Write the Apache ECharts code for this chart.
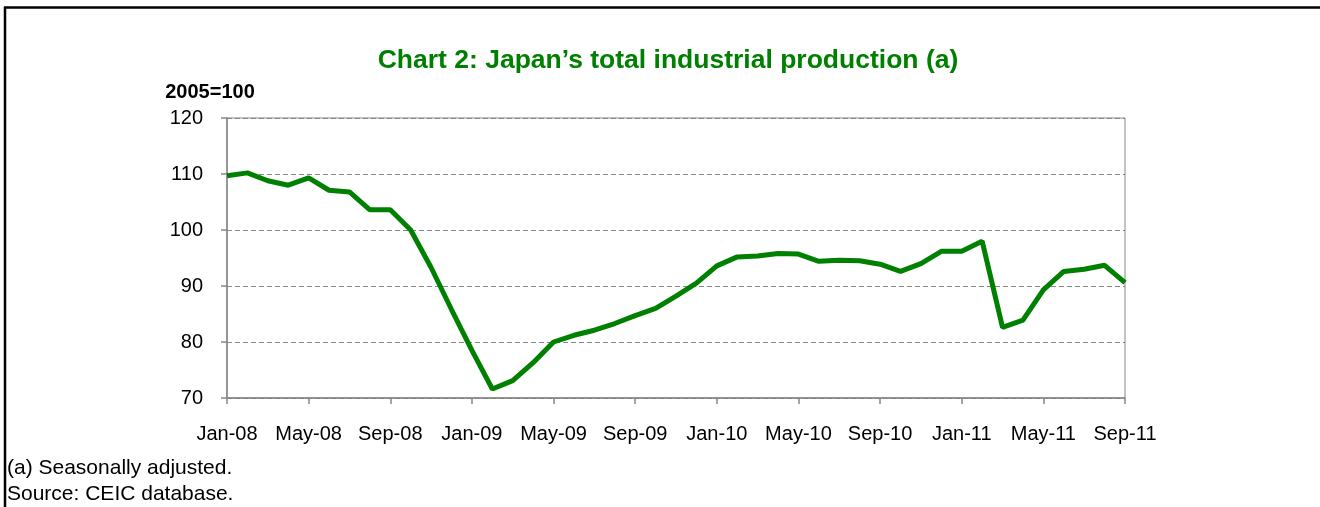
<!DOCTYPE html>
<html>
<head>
<meta charset="utf-8">
<script src="https://cdn.jsdelivr.net/npm/echarts@6/dist/echarts.min.js"></script>
<style>
  html, body { margin: 0; padding: 0; background: #fff; }
  #chart { width: 1320px; height: 507px; }
</style>
</head>
<body>
<div id="chart"></div>
<script>
  // monthly, Jan-08 .. Sep-11
  var months = ['Jan', 'Feb', 'Mar', 'Apr', 'May', 'Jun', 'Jul', 'Aug', 'Sep', 'Oct', 'Nov', 'Dec']
  var years = ['08', '09', '10', '11']
  var categories = []
  years.forEach(function (y) {
    months.forEach(function (m) {
      if (categories.length < 45) categories.push(m + '-' + y)
    })
  })

  var production = [
    109.7, 110.2, 108.8, 108.0, 109.3, 107.1, 106.8, 103.6, 103.6, 100.0, 93.3, 85.8,
    78.5, 71.6, 73.1, 76.3, 80.0, 81.2, 82.1, 83.3, 84.7, 86.0, 88.2, 90.5,
    93.6, 95.2, 95.35, 95.8, 95.7, 94.4, 94.6, 94.5, 93.9, 92.6, 94.0, 96.2,
    96.2, 98.0, 82.6, 83.9, 89.3, 92.6, 93.0, 93.7, 90.6
  ]

  var chart = echarts.init(document.getElementById('chart'))
  chart.setOption({
    animation: false,
    backgroundColor: '#fff',
    title: {
      text: 'Chart 2: Japan\u2019s total industrial production (a)',
      left: 663,
      textAlign: 'center',
      top: 42,
      textStyle: {
        color: '#008000',
        fontFamily: 'Liberation Sans',
        fontWeight: 'bold',
        fontSize: 26.5
      }
    },
    grid: {
      left: 227,
      right: 195,
      top: 118,
      bottom: 109,
      show: true,
      borderColor: '#868686',
      borderWidth: 1
    },
    xAxis: {
      type: 'category',
      data: categories,
      boundaryGap: false,
      axisLine: { lineStyle: { color: '#868686', width: 1.5 } },
      axisTick: { interval: 3, length: 6, lineStyle: { color: '#868686', width: 1.5 } },
      axisLabel: {
        interval: 3,
        color: '#000',
        fontFamily: 'Liberation Sans',
        fontSize: 20,
        margin: 26
      },
      splitLine: { show: false }
    },
    yAxis: {
      type: 'value',
      min: 70,
      max: 120,
      interval: 10,
      name: '2005=100',
      nameLocation: 'end',
      nameGap: 16,
      nameTextStyle: {
        color: '#000',
        fontFamily: 'Liberation Sans',
        fontWeight: 'bold',
        fontSize: 20,
        align: 'center',
        padding: [0, 0, 0, -34]
      },
      axisLine: { show: true, lineStyle: { color: '#868686', width: 1.5 } },
      axisTick: { show: true, length: 6, lineStyle: { color: '#868686', width: 1.5 } },
      axisLabel: {
        color: '#000',
        fontFamily: 'Liberation Sans',
        fontSize: 20,
        margin: 24
      },
      splitLine: { lineStyle: { color: '#868686', type: [5, 3], width: 1 } }
    },
    series: [
      {
        name: 'Industrial production',
        type: 'line',
        data: production,
        symbol: 'none',
        lineStyle: { color: '#008000', width: 5 },
        itemStyle: { color: '#008000' }
      }
    ],
    graphic: [
      { type: 'line', shape: { x1: 4, y1: 7.5, x2: 1320, y2: 7.5 }, style: { stroke: '#000', lineWidth: 2.5 } },
      { type: 'line', shape: { x1: 5, y1: 7, x2: 5, y2: 507 }, style: { stroke: '#000', lineWidth: 2.5 } },
      {
        type: 'text', left: 7, top: 458,
        style: { text: '(a) Seasonally adjusted.', fill: '#000', font: '21px "Liberation Sans"' }
      },
      {
        type: 'text', left: 7, top: 484,
        style: { text: 'Source: CEIC database.', fill: '#000', font: '21px "Liberation Sans"' }
      }
    ]
  })
</script>
</body>
</html>
